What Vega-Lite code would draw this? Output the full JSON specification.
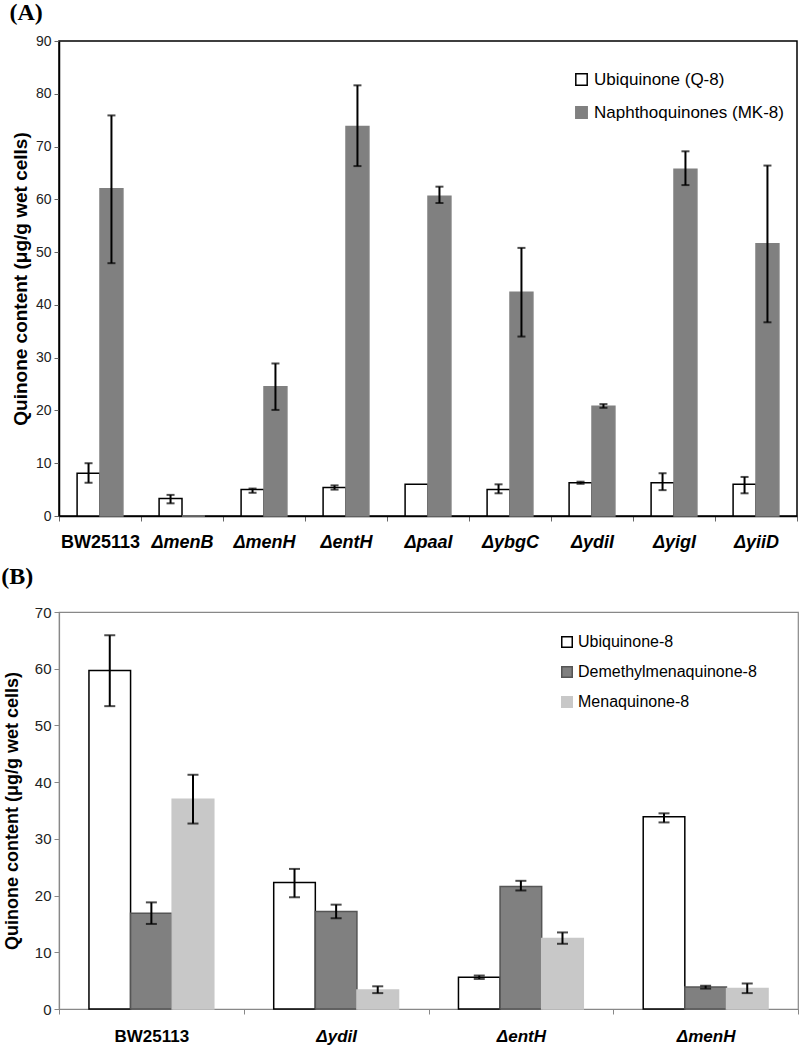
{
  "$schema": "https://vega.github.io/schema/vega-lite/v6.json",
  "background": "white",
  "padding": {"left": 0, "top": 0, "right": 2, "bottom": 0},
  "spacing": 12,
  "config": {
    "font": "Liberation Sans",
    "axis": {"grid": false},
    "legend": {"labelFont": "Liberation Sans", "labelColor": "black", "labelLimit": 400}
  },
  "resolve": {
    "scale": {"x": "independent", "y": "independent", "xOffset": "independent", "fill": "independent", "stroke": "independent"},
    "legend": {"fill": "independent", "stroke": "independent"}
  },
  "datasets": {
    "a": [
      {"strain": "BW25113", "series": "Ubiquinone (Q-8)", "value": 8.1, "lo": 6.3, "hi": 10.0},
      {"strain": "BW25113", "series": "Naphthoquinones (MK-8)", "value": 62.0, "lo": 47.9, "hi": 75.9},
      {"strain": "ΔmenB", "series": "Ubiquinone (Q-8)", "value": 3.3, "lo": 2.4, "hi": 4.0},
      {"strain": "ΔmenB", "series": "Naphthoquinones (MK-8)", "value": 0, "lo": null, "hi": null},
      {"strain": "ΔmenH", "series": "Ubiquinone (Q-8)", "value": 5.0, "lo": 4.4, "hi": 5.2},
      {"strain": "ΔmenH", "series": "Naphthoquinones (MK-8)", "value": 24.5, "lo": 20.1, "hi": 28.9},
      {"strain": "ΔentH", "series": "Ubiquinone (Q-8)", "value": 5.4, "lo": 5.0, "hi": 5.8},
      {"strain": "ΔentH", "series": "Naphthoquinones (MK-8)", "value": 73.8, "lo": 66.3, "hi": 81.6},
      {"strain": "ΔpaaI", "series": "Ubiquinone (Q-8)", "value": 6.0, "lo": null, "hi": null},
      {"strain": "ΔpaaI", "series": "Naphthoquinones (MK-8)", "value": 60.6, "lo": 59.3, "hi": 62.4},
      {"strain": "ΔybgC", "series": "Ubiquinone (Q-8)", "value": 5.0, "lo": 4.3, "hi": 6.0},
      {"strain": "ΔybgC", "series": "Naphthoquinones (MK-8)", "value": 42.4, "lo": 34.0, "hi": 50.8},
      {"strain": "ΔydiI", "series": "Ubiquinone (Q-8)", "value": 6.3, "lo": 6.1, "hi": 6.5},
      {"strain": "ΔydiI", "series": "Naphthoquinones (MK-8)", "value": 20.8, "lo": 20.5, "hi": 21.2},
      {"strain": "ΔyigI", "series": "Ubiquinone (Q-8)", "value": 6.3, "lo": 4.9, "hi": 8.1},
      {"strain": "ΔyigI", "series": "Naphthoquinones (MK-8)", "value": 65.7, "lo": 62.7, "hi": 69.1},
      {"strain": "ΔyiiD", "series": "Ubiquinone (Q-8)", "value": 6.0, "lo": 4.3, "hi": 7.4},
      {"strain": "ΔyiiD", "series": "Naphthoquinones (MK-8)", "value": 51.6, "lo": 36.7, "hi": 66.4}
    ],
    "b": [
      {"strain": "BW25113", "series": "Ubiquinone-8", "value": 59.7, "lo": 53.4, "hi": 65.9},
      {"strain": "BW25113", "series": "Demethylmenaquinone-8", "value": 16.9, "lo": 15.0, "hi": 18.8},
      {"strain": "BW25113", "series": "Menaquinone-8", "value": 37.0, "lo": 32.7, "hi": 41.3},
      {"strain": "ΔydiI", "series": "Ubiquinone-8", "value": 22.3, "lo": 19.7, "hi": 24.7},
      {"strain": "ΔydiI", "series": "Demethylmenaquinone-8", "value": 17.2, "lo": 16.0, "hi": 18.4},
      {"strain": "ΔydiI", "series": "Menaquinone-8", "value": 3.35, "lo": 2.8, "hi": 4.0},
      {"strain": "ΔentH", "series": "Ubiquinone-8", "value": 5.6, "lo": 5.3, "hi": 5.9},
      {"strain": "ΔentH", "series": "Demethylmenaquinone-8", "value": 21.6, "lo": 20.9, "hi": 22.6},
      {"strain": "ΔentH", "series": "Menaquinone-8", "value": 12.45, "lo": 11.5, "hi": 13.5},
      {"strain": "ΔmenH", "series": "Ubiquinone-8", "value": 33.9, "lo": 32.9, "hi": 34.5},
      {"strain": "ΔmenH", "series": "Demethylmenaquinone-8", "value": 3.9, "lo": 3.6, "hi": 4.1},
      {"strain": "ΔmenH", "series": "Menaquinone-8", "value": 3.6, "lo": 2.8, "hi": 4.5}
    ]
  },
  "vconcat": [
    {
      "title": {"text": "(A)", "anchor": "start", "frame": "bounds", "font": "Liberation Serif", "fontSize": 24, "fontWeight": "bold", "color": "black", "offset": 9, "dx": -2},
      "width": 738,
      "height": 475,
      "data": {"name": "a"},
      "view": {"stroke": "black", "strokeWidth": 1.5},
      "encoding": {
        "x": {
          "field": "strain", "type": "nominal", "sort": null,
          "scale": {"paddingInner": 0, "paddingOuter": 0},
          "axis": {"title": null, "labelAngle": 0, "tickBand": "extent", "tickSize": 5, "tickColor": "#666", "domainColor": "black", "domainWidth": 1.5,
            "labelFontSize": 18, "labelFontWeight": "bold", "labelColor": "black", "labelPadding": 12,
            "labelFontStyle": {"condition": {"test": "datum.value == 'BW25113'", "value": "normal"}, "value": "italic"}}
        },
        "xOffset": {"field": "series", "type": "nominal", "sort": null, "scale": {"paddingInner": 0, "paddingOuter": 0.79}}
      },
      "layer": [
        {
          "mark": {"type": "bar", "strokeWidth": 1.5},
          "encoding": {
            "y": {"field": "value", "type": "quantitative", "scale": {"domain": [0, 90]},
              "axis": {"title": "Quinone content (μg/g wet cells)", "titleFontSize": 19, "titleFontWeight": "bold", "titleColor": "black", "titlePadding": 5,
                "values": [0, 10, 20, 30, 40, 50, 60, 70, 80, 90], "labelFontSize": 14, "labelColor": "#222", "tickSize": 5, "tickColor": "#666", "domainColor": "black", "domainWidth": 1.5, "labelPadding": 3}},
            "fill": {"field": "series", "type": "nominal", "sort": null,
              "scale": {"domain": ["Ubiquinone (Q-8)", "Naphthoquinones (MK-8)"], "range": ["white", "#808080"]},
              "legend": {"title": null, "orient": "none", "legendX": 514, "legendY": 30, "symbolType": "square", "symbolSize": 130, "symbolStrokeWidth": 1.5, "labelFontSize": 17, "rowPadding": 14, "labelOffset": 4}},
            "stroke": {"field": "series", "type": "nominal", "sort": null,
              "scale": {"domain": ["Ubiquinone (Q-8)", "Naphthoquinones (MK-8)"], "range": ["black", "#808080"]},
              "legend": {"title": null, "orient": "none", "legendX": 514, "legendY": 30, "symbolType": "square", "symbolSize": 130, "symbolStrokeWidth": 1.5, "labelFontSize": 17, "rowPadding": 14, "labelOffset": 4}}
          }
        },
        {
          "transform": [{"filter": "datum.lo != null"}],
          "mark": {"type": "rule", "strokeWidth": 2, "color": "black"},
          "encoding": {"y": {"field": "lo", "type": "quantitative", "title": "Quinone content (μg/g wet cells)"}, "y2": {"field": "hi"}}
        },
        {
          "transform": [{"filter": "datum.lo != null"}],
          "mark": {"type": "tick", "size": 8, "thickness": 2, "color": "black"},
          "encoding": {"y": {"field": "lo", "type": "quantitative", "title": "Quinone content (μg/g wet cells)"}}
        },
        {
          "transform": [{"filter": "datum.lo != null"}],
          "mark": {"type": "tick", "size": 8, "thickness": 2, "color": "black"},
          "encoding": {"y": {"field": "hi", "type": "quantitative", "title": "Quinone content (μg/g wet cells)"}}
        }
      ]
    },
    {
      "title": {"text": "(B)", "anchor": "start", "frame": "bounds", "font": "Liberation Serif", "fontSize": 24, "fontWeight": "bold", "color": "black", "offset": 16, "dx": -2},
      "width": 739,
      "height": 397,
      "data": {"name": "b"},
      "view": {"stroke": "#888", "strokeWidth": 1.2},
      "encoding": {
        "x": {
          "field": "strain", "type": "nominal", "sort": null,
          "scale": {"paddingInner": 0, "paddingOuter": 0},
          "axis": {"title": null, "labelAngle": 0, "tickBand": "extent", "tickSize": 5, "tickColor": "#888", "domainColor": "#888", "domainWidth": 1.2,
            "labelFontSize": 17, "labelFontWeight": "bold", "labelColor": "black", "labelPadding": 14,
            "labelFontStyle": {"condition": {"test": "datum.value == 'BW25113'", "value": "normal"}, "value": "italic"}}
        },
        "xOffset": {"field": "series", "type": "nominal", "sort": null, "scale": {"paddingInner": 0, "paddingOuter": 0.72}}
      },
      "layer": [
        {
          "mark": {"type": "bar", "strokeWidth": 1.5},
          "encoding": {
            "y": {"field": "value", "type": "quantitative", "scale": {"domain": [0, 70]},
              "axis": {"title": "Quinone content (μg/g wet cells)", "titleFontSize": 18, "titleFontWeight": "bold", "titleColor": "black", "titlePadding": 13,
                "values": [0, 10, 20, 30, 40, 50, 60, 70], "labelFontSize": 15, "labelColor": "#222", "tickSize": 5, "tickColor": "#888", "domainColor": "#888", "domainWidth": 1.2, "labelPadding": 3}},
            "fill": {"field": "series", "type": "nominal", "sort": null,
              "scale": {"domain": ["Ubiquinone-8", "Demethylmenaquinone-8", "Menaquinone-8"], "range": ["white", "#808080", "#c8c8c8"]},
              "legend": {"title": null, "orient": "none", "legendX": 500, "legendY": 22, "symbolType": "square", "symbolSize": 110, "symbolStrokeWidth": 1.5, "labelFontSize": 16, "rowPadding": 12, "labelOffset": 3}},
            "stroke": {"field": "series", "type": "nominal", "sort": null,
              "scale": {"domain": ["Ubiquinone-8", "Demethylmenaquinone-8", "Menaquinone-8"], "range": ["black", "#555", "#c8c8c8"]},
              "legend": {"title": null, "orient": "none", "legendX": 500, "legendY": 22, "symbolType": "square", "symbolSize": 110, "symbolStrokeWidth": 1.5, "labelFontSize": 16, "rowPadding": 12, "labelOffset": 3}}
          }
        },
        {
          "mark": {"type": "rule", "strokeWidth": 2, "color": "black"},
          "encoding": {"y": {"field": "lo", "type": "quantitative", "title": "Quinone content (μg/g wet cells)"}, "y2": {"field": "hi"}}
        },
        {
          "mark": {"type": "tick", "size": 11, "thickness": 2, "color": "black"},
          "encoding": {"y": {"field": "lo", "type": "quantitative", "title": "Quinone content (μg/g wet cells)"}}
        },
        {
          "mark": {"type": "tick", "size": 11, "thickness": 2, "color": "black"},
          "encoding": {"y": {"field": "hi", "type": "quantitative", "title": "Quinone content (μg/g wet cells)"}}
        }
      ]
    }
  ]
}
